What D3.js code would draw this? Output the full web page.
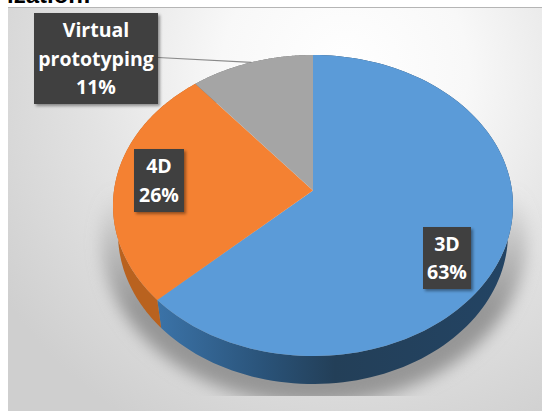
<!DOCTYPE html>
<html>
<head>
<meta charset="utf-8">
<script src="https://cdn.jsdelivr.net/npm/d3@7"></script>
<style>
  html, body { margin: 0; padding: 0; background: #fff; }
  svg { display: block; }
</style>
</head>
<body>
<svg id="chart" width="559" height="411"></svg>
<script>
// Share of each modelling approach, in percent
const categories = ["3D", "4D", "Virtual prototyping"];
const shares = [63, 26, 11];
const topColors = ["#5b9bd8", "#f48132", "#a5a5a5"];
const sideColors = ["url(#blueSide)", "#b9621f", "#6e6e6e"];

// Callout boxes, in the same order as the categories
const calloutBoxes = [
  { x: 423, y: 227, w: 48, h: 62 },
  { x: 134, y: 149, w: 50, h: 63 },
  { x: 34, y: 13, w: 124, h: 91 }
];
const calloutLines = [["3D"], ["4D"], ["Virtual", "prototyping"]];

const svg = d3.select("#chart");
const W = 559, H = 411;

// Pie geometry: a tilted disc seen in perspective
const cx = 313, cy = 205.5, rx = 200, ry = 150.5, depth = 28;
const persp = -0.1, lowerScale = 0.975;
const project = (theta, r = 1) => {
  const u = r * Math.sin(theta), v = -r * Math.cos(theta);
  const w = 1 + persp * v;
  return [
    cx + rx * Math.sqrt(1 - persp * persp) * u / w,
    cy + ry * (v + persp) / w
  ];
};
const rimPoints = (a0, a1) =>
  d3.range(0, 121).map(i => project(a0 + (a1 - a0) * i / 120));

const defs = svg.append("defs");

const bg = defs.append("radialGradient").attr("id", "bg")
  .attr("gradientUnits", "userSpaceOnUse")
  .attr("cx", 345).attr("cy", 70).attr("r", 410);
[[0, "#ffffff"], [0.3, "#f8f8f8"], [0.62, "#e3e3e3"], [1, "#cfcfcf"]].forEach(([o, c]) =>
  bg.append("stop").attr("offset", o).attr("stop-color", c));

const blueSide = defs.append("linearGradient").attr("id", "blueSide")
  .attr("gradientUnits", "userSpaceOnUse")
  .attr("x1", 157).attr("x2", 513).attr("y1", 0).attr("y2", 0);
[[0, "#3b73a8"], [0.3, "#2a5379"], [0.5, "#233f58"], [1, "#234464"]].forEach(([o, c]) =>
  blueSide.append("stop").attr("offset", o).attr("stop-color", c));

const shadowFade = defs.append("linearGradient").attr("id", "shadowFade")
  .attr("gradientUnits", "userSpaceOnUse")
  .attr("x1", 0).attr("x2", 0).attr("y1", 190).attr("y2", 310);
shadowFade.append("stop").attr("offset", 0).attr("stop-color", "#969696").attr("stop-opacity", 0);
shadowFade.append("stop").attr("offset", 1).attr("stop-color", "#969696").attr("stop-opacity", 1);

defs.append("filter").attr("id", "soft").attr("x", "-20%").attr("y", "-20%")
  .attr("width", "140%").attr("height", "140%")
  .append("feGaussianBlur").attr("stdDeviation", 8);

const boxShadow = defs.append("filter").attr("id", "boxShadow")
  .attr("x", "-20%").attr("y", "-20%").attr("width", "150%").attr("height", "150%");
boxShadow.append("feDropShadow").attr("dx", 2).attr("dy", 2)
  .attr("stdDeviation", 1.5).attr("flood-color", "#000").attr("flood-opacity", 0.4);

defs.append("clipPath").attr("id", "plotClip").append("rect")
  .attr("x", 8).attr("y", 8).attr("width", 534).attr("height", 388);

// Section heading running off the top edge
svg.append("text")
  .attr("x", 7).attr("y", 3)
  .attr("font-family", "Liberation Sans").attr("font-weight", 700)
  .attr("font-size", 24).attr("fill", "#000")
  .text("ization:");

// Plot background
svg.append("rect").attr("x", 8).attr("y", 8).attr("width", 534).attr("height", H - 8)
  .attr("fill", "url(#bg)");
svg.append("line").attr("x1", 8).attr("x2", 542).attr("y1", 7.5).attr("y2", 7.5)
  .attr("stroke", "#b5b5b5").attr("stroke-width", 1);

// Soft cast shadow below the disc
const line = d3.line();
const TAU = 2 * Math.PI;
svg.append("g").attr("clip-path", "url(#plotClip)")
  .append("ellipse")
  .attr("cx", cx + 1).attr("cy", cy + 33).attr("rx", rx + 13).attr("ry", ry + 15)
  .attr("fill", "url(#shadowFade)")
  .attr("filter", "url(#soft)");

const arcs = d3.pie().sort(null).startAngle(0).endAngle(TAU)(shares);

// Side wall of the disc; the lower rim sits slightly further away
const lowerRim = ([x, y]) => [cx + (x - cx) * lowerScale, y + depth];
svg.append("g").selectAll("path").data(arcs).join("path")
  .attr("d", d => {
    const rim = rimPoints(d.startAngle, d.endAngle);
    return line(rim.concat(rim.map(lowerRim).reverse())) + "Z";
  })
  .attr("fill", (d, i) => sideColors[i]);

// Top face of each slice, meeting at the projected centre
svg.append("g").selectAll("path").data(arcs).join("path")
  .attr("d", d => line([project(0, 0), ...rimPoints(d.startAngle, d.endAngle)]) + "Z")
  .attr("fill", (d, i) => topColors[i]);

// Leader from the callout to its slice
const grayMid = project((arcs[2].startAngle + arcs[2].endAngle) / 2);
svg.append("line")
  .attr("x1", calloutBoxes[2].x + calloutBoxes[2].w).attr("y1", 57.5)
  .attr("x2", grayMid[0]).attr("y2", grayMid[1])
  .attr("stroke", "#8a8a8a").attr("stroke-width", 1.2);

// Callouts
const callouts = svg.append("g").selectAll("g").data(categories).join("g");
callouts.append("rect")
  .attr("x", (d, i) => calloutBoxes[i].x).attr("y", (d, i) => calloutBoxes[i].y)
  .attr("width", (d, i) => calloutBoxes[i].w).attr("height", (d, i) => calloutBoxes[i].h)
  .attr("fill", "#404040").attr("filter", "url(#boxShadow)");
callouts.append("text")
  .attr("text-anchor", "middle")
  .attr("font-family", "Open Sans").attr("font-weight", 700)
  .attr("font-size", 19.5).attr("fill", "#fff")
  .each(function (d, i) {
    const b = calloutBoxes[i];
    const rows = [...calloutLines[i], shares[i] + "%"];
    const lh = 28.5;
    const first = b.y + b.h / 2 - (rows.length - 1) * lh / 2 + 7;
    d3.select(this).selectAll("tspan").data(rows).join("tspan")
      .attr("x", b.x + b.w / 2)
      .attr("y", (r, k) => first + k * lh)
      .text(r => r);
  });
</script>
</body>
</html>
